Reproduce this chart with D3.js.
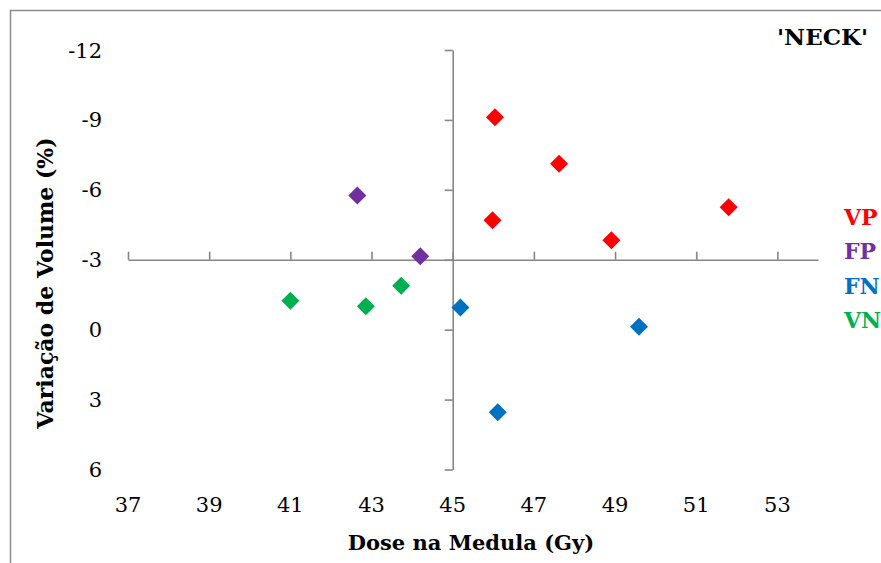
<!DOCTYPE html>
<html>
<head>
<meta charset="utf-8">
<script src="https://cdn.jsdelivr.net/npm/d3@7"></script>
<style>
  html, body { margin: 0; padding: 0; background: #fff; }
  svg { display: block; }
</style>
</head>
<body>
<svg id="chart" width="881" height="563"></svg>
<script>
// Dose to the spinal cord (Gy) vs. volume change (%), grouped by outcome class
const seriesNames = ["VP", "FP", "FN", "VN"];
const seriesColors = ["#FF0000", "#7030A0", "#0070C0", "#00B050"];

const vpDose   = [46.04, 47.62, 45.98, 48.91, 51.80];
const vpVolume = [-9.11, -7.12, -4.70, -3.84, -5.25];

const fpDose   = [42.65, 44.20];
const fpVolume = [-5.76, -3.15];

const fnDose   = [45.19, 46.11, 49.59];
const fnVolume = [-0.95, 3.54, -0.12];

const vnDose   = [41.00, 42.86, 43.73];
const vnVolume = [-1.24, -1.01, -1.88];

const xTicks = [37, 39, 41, 43, 45, 47, 49, 51, 53];
const yTicks = [-12, -9, -6, -3, 0, 3, 6];

const chartTitle = "'NECK'";
const xTitle = "Dose na Medula (Gy)";
const yTitle = "Variação de Volume (%)";

const series = [
  { name: seriesNames[0], color: seriesColors[0], x: vpDose, y: vpVolume },
  { name: seriesNames[1], color: seriesColors[1], x: fpDose, y: fpVolume },
  { name: seriesNames[2], color: seriesColors[2], x: fnDose, y: fnVolume },
  { name: seriesNames[3], color: seriesColors[3], x: vnDose, y: vnVolume }
];

const svg = d3.select("#chart");
const axisColor = "#868686";
const serif = "'DejaVu Serif', 'Liberation Serif', serif";

// Outer chart frame
svg.append("rect")
  .attr("x", 10.5).attr("y", 10.5)
  .attr("width", 900).attr("height", 600)
  .attr("fill", "none").attr("stroke", "#8c8c8c").attr("stroke-width", 1.5);

// Scales: y runs downward from -12 to 6 (reversed)
const x = d3.scaleLinear().domain([37, 54]).range([128, 818]);
const y = d3.scaleLinear().domain([-12, 6]).range([50, 469.5]);

// Axes cross at (45, -3)
const xCross = 45, yCross = -3;

const xAxis = svg.append("g")
  .attr("transform", `translate(0,${y(yCross)})`)
  .call(d3.axisTop(x).tickValues(xTicks).tickSize(8).tickSizeOuter(0).tickFormat(""));

const yAxis = svg.append("g")
  .attr("transform", `translate(${x(xCross)},0)`)
  .call(d3.axisLeft(y).tickValues(yTicks).tickSize(8).tickSizeOuter(0).tickFormat(""));

[xAxis, yAxis].forEach(g => {
  g.selectAll("path.domain").attr("stroke", axisColor).attr("stroke-width", 1.6);
  g.selectAll(".tick line").attr("stroke", axisColor).attr("stroke-width", 1.6);
});

// Tick labels placed at the plot edges (low position)
svg.append("g").selectAll("text")
  .data(xTicks).join("text")
  .attr("x", d => x(d)).attr("y", 512)
  .attr("text-anchor", "middle")
  .attr("font-family", serif).attr("font-size", 21).attr("fill", "#000")
  .text(d => d);

svg.append("g").selectAll("text")
  .data(yTicks).join("text")
  .attr("x", 102).attr("y", d => y(d) + 7.5)
  .attr("text-anchor", "end")
  .attr("font-family", serif).attr("font-size", 21).attr("fill", "#000")
  .text(d => d);

// Diamond markers
const diamond = d3.symbol().type(d3.symbolSquare).size(162);
series.forEach(s => {
  svg.append("g").selectAll("path")
    .data(s.x.map((v, i) => [v, s.y[i]]))
    .join("path")
    .attr("d", diamond)
    .attr("transform", d => `translate(${x(d[0])},${y(d[1])}) rotate(45)`)
    .attr("fill", s.color);
});

// Axis titles
svg.append("text")
  .attr("x", 471).attr("y", 550)
  .attr("text-anchor", "middle")
  .attr("font-family", serif).attr("font-weight", "bold").attr("font-size", 21)
  .text(xTitle);

svg.append("text")
  .attr("transform", "translate(53,283) rotate(-90)")
  .attr("text-anchor", "middle")
  .attr("font-family", serif).attr("font-weight", "bold").attr("font-size", 22)
  .text(yTitle);

// Chart title
svg.append("text")
  .attr("x", 868).attr("y", 45)
  .attr("text-anchor", "end")
  .attr("font-family", serif).attr("font-weight", "bold").attr("font-size", 23)
  .text(chartTitle);

// Legend (coloured labels)
svg.append("g").selectAll("text")
  .data(series).join("text")
  .attr("x", 844).attr("y", (d, i) => 225 + i * 34.3)
  .attr("font-family", serif).attr("font-weight", "bold").attr("font-size", 22)
  .attr("fill", d => d.color)
  .text(d => d.name);
</script>
</body>
</html>
